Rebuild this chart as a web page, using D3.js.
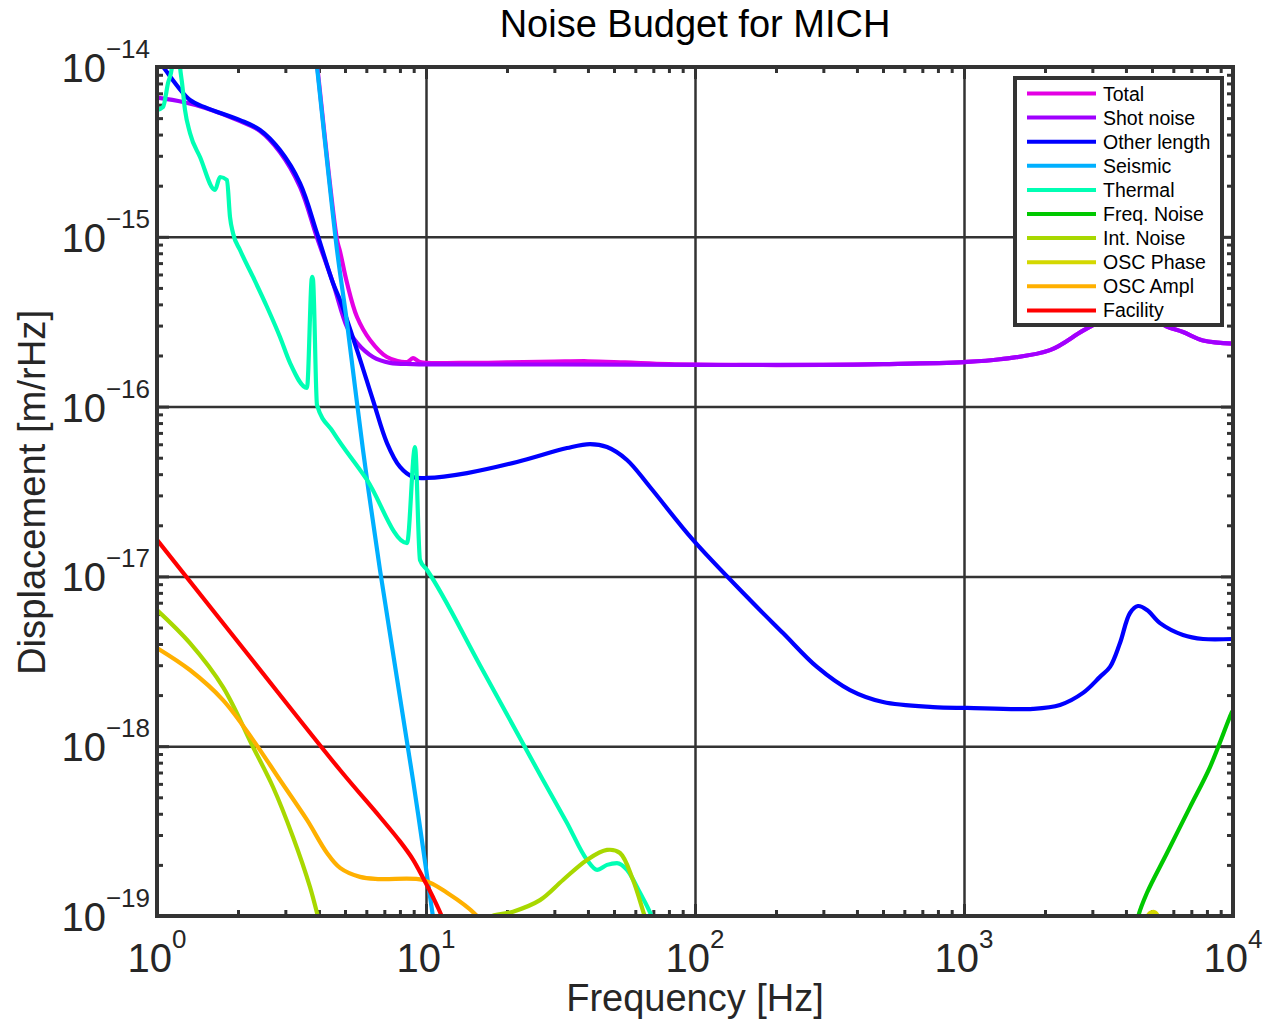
<!DOCTYPE html>
<html>
<head>
<meta charset="utf-8">
<script src="https://cdn.jsdelivr.net/npm/d3@7/dist/d3.min.js"></script>
<style>
body { margin: 0; background: #fff; }
text { font-family: "Liberation Sans", Arial, Helvetica, sans-serif; fill: #262626; }
</style>
</head>
<body>
<div id="vis"></div>
<script>
// Noise budget curves, [frequency Hz, displacement m/rtHz]
var totalNoise = [[3.87, 1.3e-14], [3.934, 1.04e-14], [4.669, 9.6e-16], [4.791, 8.2e-16], [5.087, 5.34e-16],
    [5.541, 3.37e-16], [6.192, 2.47e-16], [7.161, 1.96e-16],
    [8.501, 1.83e-16], [8.947, 1.93e-16], [9.5, 1.83e-16], [13.38, 1.81e-16], [20, 1.82e-16],
    [30, 1.84e-16], [40, 1.85e-16], [55, 1.82e-16], [80, 1.78e-16], [150, 1.76e-16], [300, 1.76e-16],
    [500, 1.78e-16], [1000, 1.83e-16], [1361, 1.9e-16], [2088, 2.15e-16], [2770, 2.8e-16],
    [3400, 3.3e-16], [4300, 3.6e-16], [5000, 3.4e-16], [5588, 3.0e-16], [6518, 2.75e-16],
    [7736, 2.45e-16], [10000, 2.35e-16]];

var shotNoise = [[1, 6.6e-15], [1.25, 6.22e-15], [1.534, 5.7e-15], [2.035, 4.8e-15], [2.415, 4.2e-15],
    [2.866, 3.15e-15], [3.401, 1.97e-15], [3.934, 9.9e-16], [4.511, 5.34e-16], [5.087, 2.94e-16],
    [5.541, 2.37e-16], [6.353, 1.96e-16], [7.348, 1.81e-16], [8.947, 1.78e-16], [13.38, 1.77e-16],
    [30, 1.77e-16], [100, 1.76e-16], [300, 1.76e-16], [500, 1.78e-16], [1000, 1.83e-16],
    [1361, 1.9e-16], [2088, 2.15e-16], [2770, 2.8e-16], [3400, 3.3e-16], [4300, 3.6e-16],
    [5000, 3.4e-16], [5588, 3.0e-16], [6518, 2.75e-16], [7736, 2.45e-16], [10000, 2.35e-16]];

var otherLength = [[1, 1.1e-14], [1.053, 1.0e-14], [1.326, 6.39e-15], [1.534, 5.73e-15], [2.035, 4.87e-15],
    [2.415, 4.26e-15], [2.866, 3.24e-15], [3.401, 2.07e-15], [3.934, 1.05e-15], [4.511, 5.34e-16],
    [4.791, 4.24e-16], [5.541, 2.15e-16], [6.353, 1.09e-16], [7.161, 6.1e-17], [8.005, 4.41e-17],
    [8.947, 3.85e-17], [10.09, 3.8e-17], [14.21, 4.06e-17], [21.79, 4.72e-17], [33.44, 5.7e-17],
    [40.71, 6.02e-17], [47.1, 5.78e-17], [55.88, 4.85e-17], [68.03, 3.36e-17], [98.3, 1.64e-17],
    [160.2, 7.26e-18], [212.4, 4.64e-18], [284.1, 2.93e-18], [376.9, 2.14e-18], [500, 1.82e-18],
    [767, 1.7e-18], [1026, 1.68e-18], [1805, 1.66e-18], [2275, 1.75e-18], [2770, 2.06e-18],
    [3203, 2.56e-18], [3490, 2.93e-18], [3801, 4.05e-18], [4141, 6.09e-18], [4435, 6.69e-18],
    [4790, 6.34e-18], [5354, 5.31e-18], [6518, 4.52e-18], [7736, 4.28e-18], [10000, 4.28e-18]];

var seismic = [[3.869, 1.26e-14], [3.934, 1.0e-14], [4.669, 8.36e-16], [5.087, 3.11e-16], [5.832, 5.55e-17],
    [6.745, 1.09e-17], [8.947, 6.32e-19], [10.62, 9.86e-20], [10.89, 7.2e-20]];

var thermal = [[1, 5.58e-15], [1.053, 5.81e-15], [1.099, 8.05e-15], [1.137, 1.0e-14], [1.157, 1.44e-14],
    [1.177, 1.6e-14], [1.197, 1.44e-14], [1.218, 1.0e-14], [1.239, 8.05e-15], [1.271, 5.58e-15],
    [1.326, 4.09e-15], [1.445, 2.95e-15], [1.643, 1.89e-15], [1.715, 2.25e-15], [1.82, 2.16e-15],
    [1.868, 1.31e-15], [1.917, 1.05e-15], [2.035, 8.36e-16], [2.275, 5.8e-16], [2.565, 3.86e-16],
    [2.866, 2.57e-16], [3.122, 1.81e-16], [3.611, 1.29e-16], [3.77, 5.8e-16], [3.802, 5.6e-16],
    [3.934, 1.02e-16], [4.511, 7.1e-17], [6.035, 3.7e-17], [8.501, 1.57e-17], [9.103, 5.78e-17],
    [9.499, 1.25e-17], [10.09, 1.09e-17], [15.87, 3.0e-18], [27.22, 6.32e-19], [33.44, 3.53e-19],
    [39.67, 2.14e-19], [43.23, 1.87e-19], [47.1, 2.0e-19], [51.29, 2.05e-19], [55.88, 1.87e-19],
    [62.45, 1.37e-19], [69.21, 9.86e-20], [71.0, 8.85e-20]];

var freqNoise = [[4396, 8.85e-20], [4435, 9.86e-20], [4790, 1.37e-19], [5684, 2.35e-19], [6920, 4.38e-19],
    [8213, 7.54e-19], [9915, 1.59e-18], [10000, 1.62e-18]];

// null marks a gap where the curve is below the plotted range
var intNoise = [[1, 6.34e-18], [1.326, 4.05e-18], [1.76, 2.23e-18], [2.275, 9.89e-19], [2.699, 5.75e-19],
    [3.203, 2.92e-19], [3.706, 1.48e-19], [3.968, 9.86e-20], [4.036, 8.85e-20], null,
    [16.57, 8.85e-20], [17.3, 9.86e-20], [21.06, 1.06e-19], [26.53, 1.24e-19], [32.31, 1.63e-19],
    [39.67, 2.14e-19], [47.1, 2.45e-19], [52.63, 2.35e-19], [58.83, 1.63e-19], [65.18, 9.86e-20],
    [66.9, 8.85e-20]];

var oscPhase = [[4629, 8.85e-20], [4914, 1.04e-19], [5129, 1.05e-19], [5447, 8.85e-20]];

var oscAmpl = [[1, 3.79e-18], [1.326, 2.81e-18], [1.76, 1.87e-18], [2.275, 1.09e-18], [2.866, 6.32e-19],
    [3.611, 3.68e-19], [4.285, 2.35e-19], [4.791, 1.92e-19], [5.684, 1.7e-19], [6.745, 1.65e-19],
    [9.746, 1.63e-19], [11.97, 1.37e-19], [15.47, 1.0e-19], [16.01, 9.2e-20]];

var facility = [[1, 1.64e-17], [2.216, 3.35e-18], [4.791, 7.24e-19], [6.745, 3.83e-19], [8.005, 2.75e-19],
    [8.947, 2.15e-19], [9.746, 1.68e-19], [10.62, 1.29e-19], [11.47, 9.86e-20], [11.67, 8.85e-20]];

var seriesNames = ['Total', 'Shot noise', 'Other length', 'Seismic', 'Thermal', 'Freq. Noise',
    'Int. Noise', 'OSC Phase', 'OSC Ampl', 'Facility'];
var seriesColors = ['#e400e4', '#a000ff', '#0000ff', '#00b0ff', '#00ffb4', '#00c800',
    '#a8d800', '#d4d800', '#ffb000', '#ff0000'];
var seriesData = [totalNoise, shotNoise, otherLength, seismic, thermal, freqNoise,
    intNoise, oscPhase, oscAmpl, facility];

var xDecades = [1, 10, 100, 1000, 10000];
var yDecades = [1e-19, 1e-18, 1e-17, 1e-16, 1e-15, 1e-14];
var xExponents = ['0', '1', '2', '3', '4'];
var yExponents = ['\u221219', '\u221218', '\u221217', '\u221216', '\u221215', '\u221214'];

(function () {
    var width = 1275, height = 1024;
    var margin = { left: 157, top: 67, right: 42, bottom: 108 };
    var drawWidth = width - margin.left - margin.right;
    var drawHeight = height - margin.top - margin.bottom;
    var axisColor = '#333333';

    var svg = d3.select('#vis').append('svg')
        .attr('width', width)
        .attr('height', height);

    var xScale = d3.scaleLog().domain([1, 1e4]).range([0, drawWidth]);
    var yScale = d3.scaleLog().domain([1e-19, 1e-14]).range([drawHeight, 0]);

    var g = svg.append('g')
        .attr('transform', 'translate(' + margin.left + ',' + margin.top + ')');

    g.append('clipPath').attr('id', 'plotClip')
        .append('rect').attr('width', drawWidth).attr('height', drawHeight);

    // minor ticks at 2..9 of each decade
    var minorX = [], minorY = [];
    xDecades.slice(0, -1).forEach(function (d) {
        for (var k = 2; k < 10; k++) minorX.push(d * k);
    });
    yDecades.slice(0, -1).forEach(function (d) {
        for (var k = 2; k < 10; k++) minorY.push(d * k);
    });

    // grid lines at decades
    g.append('g').attr('class', 'grid')
        .attr('transform', 'translate(0,' + drawHeight + ')')
        .call(d3.axisBottom(xScale).tickValues(xDecades.slice(1, -1)).tickSize(-drawHeight).tickFormat(''));
    g.append('g').attr('class', 'grid')
        .call(d3.axisLeft(yScale).tickValues(yDecades.slice(1, -1)).tickSize(-drawWidth).tickFormat(''));

    // inward ticks on all four sides
    var tickAxes = [
        [d3.axisBottom, xScale, 'translate(0,' + drawHeight + ')'],
        [d3.axisTop, xScale, 'translate(0,0)'],
        [d3.axisLeft, yScale, 'translate(0,0)'],
        [d3.axisRight, yScale, 'translate(' + drawWidth + ',0)']
    ];
    tickAxes.forEach(function (a) {
        var isX = a[1] === xScale;
        g.append('g').attr('class', 'ticks').attr('transform', a[2])
            .call(a[0](a[1]).tickValues(isX ? minorX : minorY).tickSize(-6).tickFormat(''));
        g.append('g').attr('class', 'ticks').attr('transform', a[2])
            .call(a[0](a[1]).tickValues(isX ? xDecades : yDecades).tickSize(-12).tickFormat(''));
    });
    g.selectAll('.grid path, .ticks path').remove();
    g.selectAll('.grid line').attr('stroke', axisColor).attr('stroke-width', 2.5);
    g.selectAll('.ticks line').attr('stroke', axisColor).attr('stroke-width', 3);

    // curves: smooth spline, thermal keeps its sharp resonance spikes
    var smoothLine = d3.line()
        .defined(function (d) { return d !== null; })
        .x(function (d) { return xScale(d[0]); })
        .y(function (d) { return yScale(d[1]); })
        .curve(d3.curveCatmullRom.alpha(0.5));
    var spikyLine = d3.line()
        .x(function (d) { return xScale(d[0]); })
        .y(function (d) { return yScale(d[1]); })
        .curve(d3.curveMonotoneX);

    g.append('g').attr('clip-path', 'url(#plotClip)')
        .selectAll('path').data(seriesData).enter().append('path')
        .attr('d', function (d) { return d === thermal ? spikyLine(d) : smoothLine(d); })
        .attr('fill', 'none')
        .attr('stroke', function (d, i) { return seriesColors[i]; })
        .attr('stroke-width', 4.2)
        .attr('stroke-linejoin', 'round');

    // frame
    g.append('rect')
        .attr('width', drawWidth).attr('height', drawHeight)
        .attr('fill', 'none').attr('stroke', axisColor).attr('stroke-width', 4);

    // tick labels with superscript exponents
    var xLabels = g.selectAll('.xlab').data(xDecades).enter().append('text')
        .attr('class', 'xlab')
        .attr('x', function (d) { return xScale(d); })
        .attr('y', drawHeight + 56)
        .attr('text-anchor', 'middle')
        .style('font-size', '40px');
    xLabels.append('tspan').text('10');
    xLabels.append('tspan').attr('dy', -24).style('font-size', '26px')
        .text(function (d, i) { return xExponents[i]; });

    var yLabels = g.selectAll('.ylab').data(yDecades).enter().append('text')
        .attr('class', 'ylab')
        .attr('x', -7)
        .attr('y', function (d) { return yScale(d) + 15; })
        .attr('text-anchor', 'end')
        .style('font-size', '40px');
    yLabels.append('tspan').text('10');
    yLabels.append('tspan').attr('dy', -24).style('font-size', '26px')
        .text(function (d, i) { return yExponents[i]; });

    // titles
    svg.append('text')
        .attr('x', margin.left + drawWidth / 2).attr('y', 37)
        .attr('text-anchor', 'middle')
        .style('font-size', '38px').style('fill', '#000')
        .text('Noise Budget for MICH');

    svg.append('text')
        .attr('x', margin.left + drawWidth / 2).attr('y', 1011)
        .attr('text-anchor', 'middle')
        .style('font-size', '38px')
        .text('Frequency [Hz]');

    svg.append('text')
        .attr('transform', 'translate(45,' + (margin.top + drawHeight / 2 + 1) + ') rotate(-90)')
        .attr('text-anchor', 'middle')
        .attr('textLength', 365).attr('lengthAdjust', 'spacingAndGlyphs')
        .style('font-size', '38px')
        .text('Displacement [m/rHz]');

    // legend
    var legend = svg.append('g').attr('transform', 'translate(1015,78)');
    legend.append('rect')
        .attr('width', 207).attr('height', 247)
        .attr('fill', '#fff').attr('stroke', axisColor).attr('stroke-width', 4);
    var rows = legend.selectAll('.row').data(seriesNames).enter().append('g')
        .attr('class', 'row')
        .attr('transform', function (d, i) { return 'translate(0,' + (15.5 + i * 24.1) + ')'; });
    rows.append('line')
        .attr('x1', 12).attr('x2', 81)
        .attr('stroke', function (d, i) { return seriesColors[i]; })
        .attr('stroke-width', 4);
    rows.append('text')
        .attr('x', 88).attr('y', 7)
        .style('font-size', '19.5px').style('fill', '#000')
        .text(function (d) { return d; });
})();
</script>
</body>
</html>
